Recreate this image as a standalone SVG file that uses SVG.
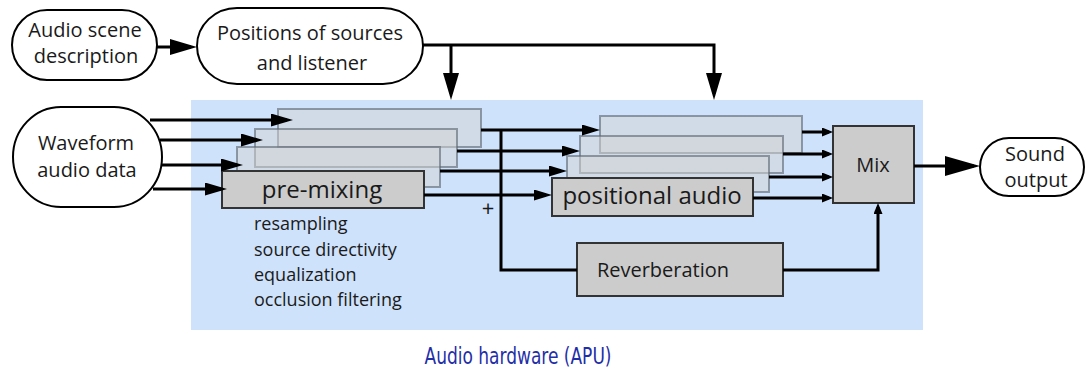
<svg xmlns="http://www.w3.org/2000/svg" width="1087" height="369" viewBox="0 0 1087 369">
<style>
.t{font-family:"Open Sans","Noto Sans",sans-serif;fill:#1a1a1a;text-anchor:middle}
.n{font-size:20px}
.b{font-size:24px}
.s{font-size:18px;text-anchor:start}
.term{fill:#fff;stroke:#000;stroke-width:2}
.box{fill:#cccccc;stroke:#333;stroke-width:2}
.ghost{fill:#d4d4d4;fill-opacity:0.5;stroke:#5a6470;stroke-opacity:0.6;stroke-width:2}
.c{fill:none;stroke:#000;stroke-width:3}
</style>
<defs>
<marker id="big" markerUnits="userSpaceOnUse" markerWidth="27" markerHeight="16" refX="21" refY="8" orient="auto"><path d="M0,0 L27,8 L0,16 z" fill="#000"/></marker>
<marker id="in" markerUnits="userSpaceOnUse" markerWidth="22" markerHeight="13" refX="16" refY="6.5" orient="auto"><path d="M0,0 L22,6.5 L0,13 z" fill="#000"/></marker>
<marker id="med" markerUnits="userSpaceOnUse" markerWidth="18" markerHeight="11" refX="12" refY="5.5" orient="auto"><path d="M0,0 L18,5.5 L0,11 z" fill="#000"/></marker>
<marker id="sm" markerUnits="userSpaceOnUse" markerWidth="11" markerHeight="9" refX="7" refY="4.5" orient="auto"><path d="M0,0 L11,4.5 L0,9 z" fill="#000"/></marker>
<marker id="out" markerUnits="userSpaceOnUse" markerWidth="35" markerHeight="20" refX="29" refY="10" orient="auto"><path d="M0,0 L35,10 L0,20 z" fill="#000"/></marker>
</defs>
<rect x="191" y="100" width="732" height="230" fill="#cfe2fb"/>
<text x="518" y="364" font-family="DejaVu Sans Condensed, sans-serif" font-size="23" fill="#1f2fa8" text-anchor="middle" textLength="187" lengthAdjust="spacingAndGlyphs">Audio hardware (APU)</text>

<g id="scene"><rect class="term" x="12" y="10" width="145" height="70" rx="35" ry="35"/><text class="t n" x="85" y="37">Audio scene</text><text class="t n" x="86" y="63">description</text></g>
<g id="positions"><rect class="term" x="197" y="8" width="226" height="76" rx="40" ry="38"/><text class="t n" x="310" y="40">Positions of sources</text><text class="t n" x="312" y="70">and listener</text></g>
<g id="waveform"><rect class="term" x="13" y="107" width="149" height="100" rx="48" ry="50"/><text class="t n" x="86" y="150">Waveform</text><text class="t n" x="87" y="177">audio data</text></g>
<g id="sound"><rect class="term" x="980" y="138" width="104" height="58" rx="29" ry="29"/><text class="t n" x="1035" y="161">Sound</text><text class="t n" x="1036" y="187">output</text></g>

<g id="premix">
<rect class="ghost" x="278" y="109" width="203" height="38"/>
<rect class="ghost" x="255" y="129" width="202" height="38"/>
<rect class="ghost" x="237" y="147" width="203" height="40"/>
<rect class="box" x="222" y="171" width="202" height="37"/>
<text class="t b" x="322" y="198">pre-mixing</text>
<text class="t s" x="254" y="230">resampling</text>
<text class="t s" x="254" y="256">source directivity</text>
<text class="t s" x="254" y="281">equalization</text>
<text class="t s" x="254" y="306">occlusion filtering</text>
</g>
<g id="positional">
<rect class="ghost" x="600" y="116" width="202" height="37"/>
<rect class="ghost" x="580" y="136" width="203" height="37"/>
<rect class="ghost" x="567" y="156" width="202" height="36"/>
<rect class="box" x="552" y="178" width="201" height="38"/>
<text class="t b" x="652" y="204">positional audio</text>
</g>
<g id="reverb"><rect class="box" x="577" y="243" width="206" height="53"/><text class="t n" x="663" y="277">Reverberation</text></g>
<g id="mix"><rect class="box" x="833" y="126" width="81" height="77"/><text class="t n" x="873" y="172">Mix</text></g>
<text class="t" x="488" y="216" font-size="22">+</text>

<g id="connectors">
<path class="c" d="M157,47 H191" marker-end="url(#big)"/>
<path class="c" d="M423,45 H714 V94" marker-end="url(#big)"/>
<path class="c" d="M451,45 V94" marker-end="url(#big)"/>
<path class="c" d="M150,120 H287" marker-end="url(#in)"/>
<path class="c" d="M160,140 H257" marker-end="url(#in)"/>
<path class="c" d="M162,165 H237" marker-end="url(#in)"/>
<path class="c" d="M153,189 H221" marker-end="url(#in)"/>
<path class="c" d="M481,130 H594" marker-end="url(#med)"/>
<path class="c" d="M457,151 H574" marker-end="url(#med)"/>
<path class="c" d="M440,171 H561" marker-end="url(#med)"/>
<path class="c" d="M424,195 H546" marker-end="url(#med)"/>
<path class="c" d="M501,130 V270 H577"/>
<path class="c" d="M802,132 H829" marker-end="url(#sm)"/>
<path class="c" d="M783,154 H829" marker-end="url(#sm)"/>
<path class="c" d="M769,177 H829" marker-end="url(#sm)"/>
<path class="c" d="M753,198 H829" marker-end="url(#sm)"/>
<path class="c" d="M783,270 H878 V207" marker-end="url(#sm)"/>
<path class="c" d="M914,166 H974" stroke-width="4" marker-end="url(#out)"/>
</g>
</svg>
